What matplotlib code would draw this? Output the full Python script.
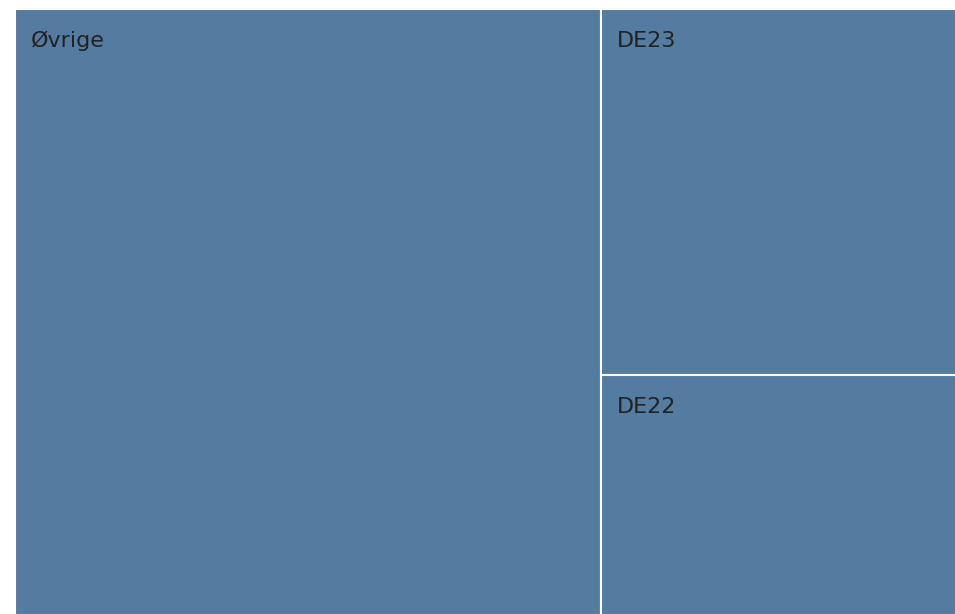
import matplotlib
matplotlib.use("Agg")
import matplotlib.pyplot as plt
from matplotlib.patches import Rectangle

labels = ["Øvrige", "DE23", "DE22"]
values = [62.2, 22.8, 15.0]

COLOR = "#547ba0"
TEXT = "#222222"


def layout(vals, x, y, w, h):
    # første felt tager en hel søjle, resten stables lodret
    total = sum(vals)
    w0 = w * vals[0] / total
    rects = [(x, y, w0, h)]
    rest = sum(vals[1:])
    top = y + h
    for v in vals[1:]:
        hh = h * v / rest
        rects.append((x + w0, top - hh, w - w0, hh))
        top -= hh
    return rects


fig = plt.figure(figsize=(9.55, 6.14), dpi=100)
ax = fig.add_axes([15 / 955, -1 / 614, 942 / 955, 606 / 614])
ax.set_xlim(0, 1); ax.set_ylim(0, 1)
ax.axis("off")

for lab, (x, y, w, h) in zip(labels, layout(values, 0, 0, 1, 1)):
    ax.add_patch(Rectangle((x, y), w, h, fc=COLOR, ec="white", lw=1.5))
    ax.annotate(lab, (x, y + h), xytext=(11.2, -27.6), textcoords="offset points",
                ha="left", va="baseline", fontsize=16, color=TEXT)

fig.savefig("out.png", dpi=100)
